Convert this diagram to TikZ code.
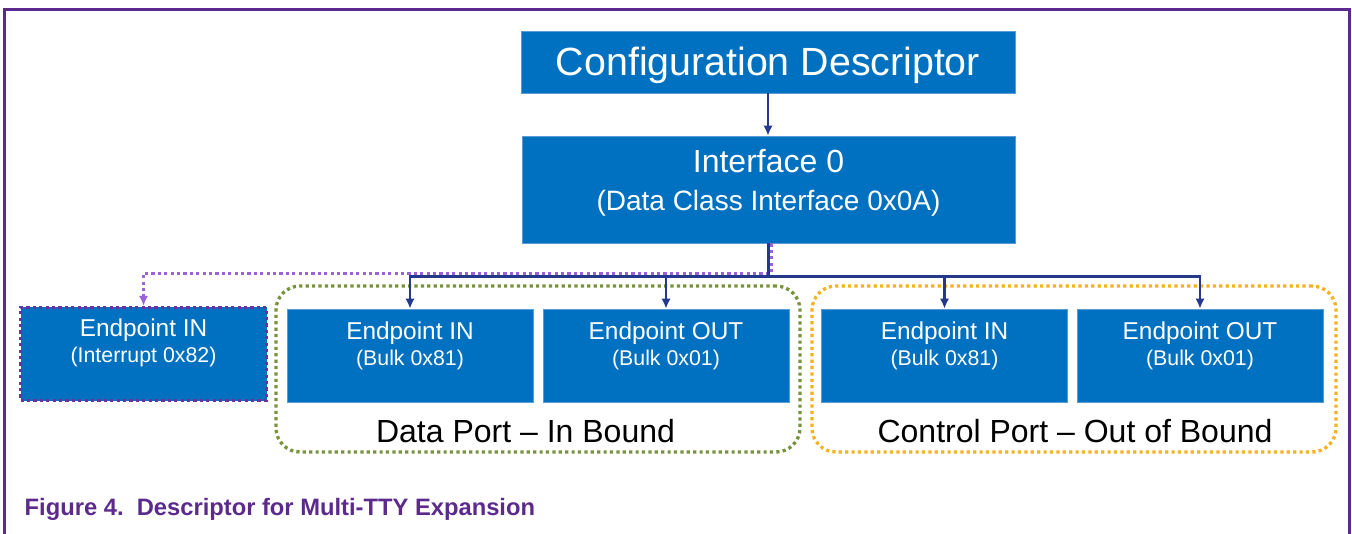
\documentclass[tikz,border=0pt]{standalone}
\usepackage{fontspec}
\setmainfont{Liberation Sans}
\usepackage{xcolor}
\usetikzlibrary{arrows.meta, positioning, fit}

\definecolor{nxpblue}{HTML}{0070C0}
\definecolor{boxedge}{HTML}{5B9BD5}
\definecolor{linknavy}{HTML}{24398C}
\definecolor{intpurple}{HTML}{9B63D8}
\definecolor{intedge}{HTML}{7030A0}
\definecolor{framepurple}{HTML}{5C2A8C}
\definecolor{dataolive}{HTML}{77933C}
\definecolor{ctrlamber}{HTML}{F5B120}

\begin{document}
\begin{tikzpicture}[x=0.75pt, y=-0.75pt, >={Latex[length=7.5pt,width=7pt]},
  blk/.style={draw=boxedge, line width=0.6pt, fill=nxpblue, inner sep=0pt},
  epbox/.style={blk, minimum width=184.5pt, minimum height=69.75pt},
  eptxt/.style={text=white, align=center, font=\fontsize{16}{19.5}\selectfont},
  link/.style={->, draw=linknavy, line width=1.9pt},
  dotline/.style={line width=2.5pt, dash pattern=on 2.4pt off 2.4pt},
  grp/.style={dotline, rounded corners=18pt, inner sep=0pt}]

\useasboundingbox (0,0) rectangle (1352,534);

% frame of the figure, open at the bottom
\draw[framepurple, line width=2.2pt] (4.5,534) -- (4.5,9.5) -- (1349.5,9.5) -- (1349.5,534);

% descriptor and interface
\node[blk, minimum width=370.5pt, minimum height=46.5pt, text=white, text depth=1pt,
  font=\fontsize{29.5}{32}\selectfont] (cfg) at (768,62) {Configuration Descriptor};
\node[blk, minimum width=369.75pt, minimum height=80.25pt] (if0) at (768.5,189.5) {};
\node[text=white, align=center, font=\fontsize{21}{28.5}\selectfont] (if0txt)
  at ([yshift=5.25pt]if0.center) {{\fontsize{24}{28.5}\selectfont Interface 0}\\(Data Class Interface 0x0A)};

% port groups
\node[grp, draw=dataolive, fit={(276,286) (800,452)}] (dport) {};
\node[grp, draw=ctrlamber, fit={(812,286) (1336,452)}] (cport) {};
\node[anchor=base, font=\fontsize{24}{28}\selectfont] (dportlbl) at (525.5,442) {Data Port – In Bound};
\node[anchor=base, font=\fontsize{24}{28}\selectfont] (cportlbl) at (1075,442) {Control Port – Out of Bound};

% endpoints
\node[epbox, draw=intedge, dotline] (ep0) at (143.5,354) {};
\node[epbox] (ep1) at (410,355.5) {};
\node[epbox] (ep2) at (666,355.5) {};
\node[epbox] (ep3) at (944.5,355.5) {};
\node[epbox] (ep4) at (1200,355.5) {};

\node[eptxt] (ep0txt) at ([yshift=8.25pt]ep0.center) {{\fontsize{18.3}{19.5}\selectfont Endpoint IN}\\(Interrupt 0x82)};
\node[eptxt] (ep1txt) at ([yshift=7.5pt]ep1.center) {{\fontsize{18.3}{19.5}\selectfont Endpoint IN}\\(Bulk 0x81)};
\node[eptxt] (ep2txt) at ([yshift=7.5pt]ep2.center) {{\fontsize{18.3}{19.5}\selectfont Endpoint OUT}\\(Bulk 0x01)};
\node[eptxt] (ep3txt) at ([yshift=7.5pt]ep3.center) {{\fontsize{18.3}{19.5}\selectfont Endpoint IN}\\(Bulk 0x81)};
\node[eptxt] (ep4txt) at ([yshift=7.5pt]ep4.center) {{\fontsize{18.3}{19.5}\selectfont Endpoint OUT}\\(Bulk 0x01)};

% links
\draw[->, draw=intpurple, dotline] ([xshift=1.8pt]if0.south) -- ++(0,30) -| (ep0.north);
\draw[link] (cfg.south) -- (cfg.south |- if0.north);
\draw[link] (if0.south) -- ++(0,33) -| (ep1.north);
\draw[link] (if0.south) -- ++(0,33) -| (ep2.north);
\draw[link] (if0.south) -- ++(0,33) -| (ep3.north);
\draw[link] (if0.south) -- ++(0,33) -| (ep4.north);

% caption
\node[anchor=base west, text=framepurple, font=\bfseries\fontsize{17.8}{20}\selectfont] (caption)
  at (20,515) {Figure 4.\ \ Descriptor for Multi-TTY Expansion};

\end{tikzpicture}
\end{document}
